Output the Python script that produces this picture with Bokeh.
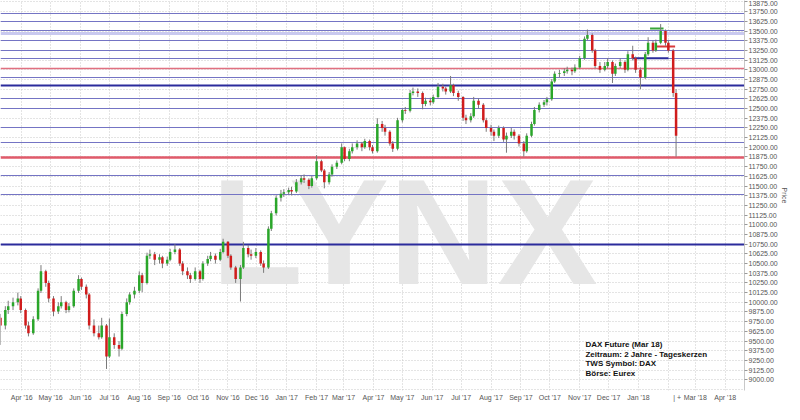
import numpy as np
import pandas as pd
from bokeh.plotting import figure
from bokeh.models import FixedTicker, NumeralTickFormatter, Label, Range1d, ColumnDataSource
from bokeh.core.properties import value
from bokeh.embed import file_html
from bokeh.resources import INLINE

# ---- data (DAX Future, candles of 3 trading days each) ----
opens = [9800, 9700, 9900, 9950, 10000, 10050, 9900, 9700, 9600, 9780,
         10150, 10400, 10250, 10050, 9880, 9950, 10000, 9900, 9950, 10150,
         10300, 10200, 10100, 9700, 9600, 9550, 9700, 9300, 9550, 9450,
         9400, 9850, 10000, 10100, 10150, 10350, 10250, 10600, 10620, 10550,
         10580, 10500, 10550, 10650, 10680, 10500, 10400, 10350, 10300, 10400,
         10300, 10500, 10560, 10600, 10550, 10650, 10780, 10600, 10450, 10300,
         10450, 10700, 10620, 10600, 10650, 10500, 10450, 10950, 11150, 11350,
         11400, 11420, 11450, 11430, 11550, 11600, 11580, 11500, 11600, 11820,
         11700, 11550, 11650, 11750, 11800, 12000, 11850, 11950, 12000, 12050,
         12000, 12080, 12000, 11950, 12300, 12250, 12200, 12050, 11980, 12350,
         12480, 12470, 12700, 12720, 12700, 12560, 12600, 12580, 12650, 12780,
         12760, 12720, 12800, 12700, 12650, 12380, 12350, 12400, 12600, 12550,
         12350, 12250, 12200, 12150, 12250, 12100, 12150, 12200, 12150, 12050,
         11950, 12150, 12300, 12480, 12550, 12580, 12620, 12850, 12950, 12960,
         12980, 13000, 12980, 13030, 13150, 13400, 13450, 13250, 13050, 13000,
         13050, 13100, 12950, 13050, 13100, 13000, 13200, 13150, 13000, 12900,
         13200, 13350, 13250, 13350, 13500, 13350, 13250, 12700]
highs = [9850, 9950, 10020, 10060, 10125, 10080, 9920, 9750, 9820, 10180,
         10480, 10420, 10280, 10080, 10000, 10080, 10020, 9990, 10180, 10350,
         10320, 10230, 10120, 9780, 9700, 9800, 9720, 9790, 9600, 9500,
         9880, 10050, 10130, 10200, 10400, 10380, 10640, 10680, 10650, 10620,
         10600, 10590, 10690, 10750, 10700, 10530, 10450, 10380, 10450, 10420,
         10530, 10600, 10650, 10630, 10690, 10820, 10790, 10620, 10470, 10480,
         10780, 10740, 10680, 10700, 10670, 10540, 10980, 11180, 11380, 11450,
         11460, 11480, 11490, 11590, 11640, 11650, 11600, 11630, 11900, 11840,
         11720, 11680, 11780, 11830, 12050, 12010, 11980, 12050, 12090, 12070,
         12110, 12100, 12030, 12375, 12340, 12290, 12220, 12080, 12380, 12500,
         12520, 12740, 12770, 12760, 12720, 12640, 12640, 12680, 12830, 12820,
         12780, 12920, 12820, 12730, 12660, 12420, 12440, 12650, 12630, 12570,
         12380, 12290, 12230, 12280, 12270, 12190, 12250, 12230, 12170, 12080,
         12180, 12330, 12520, 12580, 12610, 12650, 12880, 12980, 13000, 13020,
         13040, 13030, 13070, 13180, 13430, 13520, 13470, 13270, 13100, 13100,
         13150, 13120, 13080, 13150, 13120, 13240, 13310, 13170, 13030, 13230,
         13420, 13380, 13390, 13590, 13520, 13380, 13270, 12750]
lows = [9450, 9650, 9850, 9900, 9960, 9860, 9660, 9560, 9580, 9760,
        10120, 10200, 10000, 9820, 9850, 9920, 9860, 9870, 9930, 10120,
        10160, 10050, 9650, 9560, 9520, 9530, 9140, 9280, 9400, 9300,
        9380, 9820, 9970, 10050, 10120, 10130, 10230, 10560, 10480, 10500,
        10440, 10470, 10530, 10620, 10470, 10350, 10300, 10250, 10280, 10250,
        10280, 10470, 10530, 10500, 10530, 10630, 10570, 10420, 10250, 10010,
        10430, 10580, 10550, 10570, 10470, 10380, 10430, 10920, 11120, 11300,
        11360, 11390, 11380, 11410, 11520, 11540, 11460, 11480, 11580, 11680,
        11470, 11520, 11620, 11720, 11780, 11820, 11820, 11920, 11970, 11950,
        11980, 11960, 11920, 11930, 12200, 12150, 12020, 11940, 11960, 12320,
        12430, 12450, 12670, 12650, 12490, 12530, 12540, 12560, 12630, 12720,
        12680, 12700, 12660, 12600, 12340, 12300, 12320, 12380, 12500, 12320,
        12200, 12150, 12080, 12120, 12070, 11930, 12120, 12100, 12010, 11880,
        11930, 12130, 12280, 12450, 12520, 12540, 12600, 12830, 12900, 12920,
        12950, 12930, 12960, 13010, 13130, 13380, 13220, 13020, 12960, 12980,
        13020, 12830, 12920, 13020, 12960, 12980, 13120, 12960, 12750, 12880,
        13180, 13220, 13230, 13330, 13310, 13220, 12650, 11880]
closes = [9700, 9900, 9950, 10000, 10050, 9900, 9700, 9600, 9780, 10150,
          10400, 10250, 10050, 9880, 9950, 10000, 9900, 9950, 10150, 10300,
          10200, 10100, 9700, 9600, 9550, 9700, 9300, 9550, 9450, 9400,
          9850, 10000, 10100, 10150, 10350, 10250, 10600, 10620, 10550, 10580,
          10500, 10550, 10650, 10680, 10500, 10400, 10350, 10300, 10400, 10300,
          10500, 10560, 10600, 10550, 10650, 10780, 10600, 10450, 10300, 10450,
          10700, 10620, 10600, 10650, 10500, 10450, 10950, 11150, 11350, 11400,
          11420, 11450, 11430, 11550, 11600, 11580, 11500, 11600, 11820, 11700,
          11550, 11650, 11750, 11800, 12000, 11850, 11950, 12000, 12050, 12000,
          12080, 12000, 11950, 12300, 12250, 12200, 12050, 11980, 12350, 12480,
          12470, 12700, 12720, 12700, 12560, 12600, 12580, 12650, 12780, 12760,
          12720, 12800, 12700, 12650, 12380, 12350, 12400, 12600, 12550, 12350,
          12250, 12200, 12150, 12250, 12100, 12150, 12200, 12150, 12050, 11950,
          12150, 12300, 12480, 12550, 12580, 12620, 12850, 12950, 12960, 12980,
          13000, 12980, 13030, 13150, 13400, 13450, 13250, 13050, 13000, 13050,
          13100, 12950, 13050, 13100, 13000, 13200, 13150, 13000, 12900, 13200,
          13350, 13250, 13350, 13500, 13350, 13250, 12700, 12150]
dates = pd.bdate_range("2016-03-10", periods=len(closes), freq="3B")

NB = "\u00a0"
month_ticks = pd.date_range("2016-04-01", "2018-04-01", freq="MS")
month_labels = ["Apr '16", "May '16", "Jun '16", "Jul '16", "Aug '16", "Sep '16",
                "Oct '16", "Nov '16", "Dec '16", "Jan '17", "Feb '17", "Mar '17",
                "Apr '17", "May '17", "Jun '17", "Jul '17", "Aug '17", "Sep '17",
                "Oct '17", "Nov '17", "Dec '17", "Jan '18", NB * 9 + "|" + NB + "+",
                "Mar '18", "Apr '18"]
price_ticks = list(range(9000, 13876, 125))

# drawn horizontal levels
blue_levels = [13732, 13620, 13508, 13372, 13247, 13148, 12899, 12625, 12501,
               12252, 12065, 11642, 11394]
lavender_levels = [13471]
red_levels = [13017]
red_bold_levels = [11865]
dark_levels = [12799, 10747]
seg_start = ["2018-01-13", "2018-01-20", "2017-12-26"]
seg_end = ["2018-01-27", "2018-02-08", "2018-02-01"]
seg_price = [13533, 13300, 13148]
seg_color = ["#3aa63a", "#d83a3a", "#2b2b9c"]

info_lines = ["DAX Future (Mar 18)", "Zeitraum: 2 Jahre - Tageskerzen",
              "TWS Symbol: DAX", "Börse: Eurex"]

# ---- figure ----
def ms(s):
    return pd.Timestamp(s).value / 1e6

p = figure(frame_width=744, frame_height=390, x_axis_type="datetime", y_axis_location="right",
           x_range=Range1d(ms("2016-03-10"), ms("2018-04-21")),
           y_range=Range1d(8862, 13894),
           output_backend="svg", toolbar_location=None,
           min_border_left=0, min_border_top=0, min_border_right=0, min_border_bottom=0)
p.outline_line_color = None
p.background_fill_color = "white"
p.border_fill_color = "white"

tick_ms = [t.value / 1e6 for t in month_ticks]
p.xaxis.ticker = FixedTicker(ticks=tick_ms)
p.xaxis.major_label_overrides = {t: l for t, l in zip(tick_ms, month_labels)}
p.xaxis.axis_line_color = None
p.xaxis.major_tick_line_color = None
p.xaxis.minor_tick_line_color = None
p.xaxis.major_tick_out = 0
p.xaxis.minor_tick_out = 0
p.xaxis.axis_label = None
p.xaxis.axis_label_standoff = 0
p.xaxis.major_label_text_font = "Liberation Sans"
p.xaxis.major_label_text_font_size = "7px"
p.xaxis.major_label_text_color = "#555555"
p.xaxis.major_label_standoff = 3

p.yaxis.ticker = FixedTicker(ticks=price_ticks)
p.yaxis.formatter = NumeralTickFormatter(format="0.00")
p.yaxis.major_label_text_font = "Liberation Sans"
p.yaxis.major_label_text_font_size = "7px"
p.yaxis.major_label_text_color = "#555555"
p.yaxis.major_label_standoff = 1
p.yaxis.major_tick_out = 3
p.yaxis.major_tick_in = 0
p.yaxis.minor_tick_out = 0
p.yaxis.minor_tick_line_color = None
p.yaxis.axis_line_color = "#c8c8c8"
p.yaxis.major_tick_line_color = "#999999"
p.yaxis.axis_label = "Price"
p.yaxis.axis_label_text_font = "Liberation Sans"
p.yaxis.axis_label_text_font_size = "7px"
p.yaxis.axis_label_text_font_style = "normal"
p.yaxis.axis_label_text_color = "#555555"
p.yaxis.axis_label_standoff = 0

p.xgrid.ticker = FixedTicker(ticks=tick_ms)
p.ygrid.ticker = FixedTicker(ticks=[8875] + price_ticks)
for g in (p.xgrid, p.ygrid):
    g.grid_line_color = "#c8c8c8"
    g.grid_line_dash = "1 2"
    g.grid_line_width = 1

# watermark
p.text(x=[ms("2017-05-03")], y=[10910], text=["LYNX"],
       text_font=value("Liberation Sans"), text_font_style="bold",
       text_font_size="150px", text_color="#e6e6e6",
       text_align="center", text_baseline="middle")

# levels
p.hspan(y=blue_levels, line_color="#7474c4", line_width=1)
p.hspan(y=lavender_levels, line_color="#c9c9ef", line_width=3)
p.hspan(y=red_levels, line_color="#e07080", line_width=1.5)
p.hspan(y=red_bold_levels, line_color="#e05a6a", line_width=2.5)
p.hspan(y=dark_levels, line_color="#2b2b9c", line_width=2)
p.segment(x0=[pd.Timestamp(s) for s in seg_start], x1=[pd.Timestamp(s) for s in seg_end],
          y0=seg_price, y1=seg_price, line_color=seg_color, line_width=2)

# candles
src = ColumnDataSource(dict(
    date=dates, open=opens, high=highs, low=lows, close=closes,
    top=[max(o, c) for o, c in zip(opens, closes)],
    bottom=[min(o, c) for o, c in zip(opens, closes)],
    color=["#2aa62a" if c >= o else "#d01c1c" for o, c in zip(opens, closes)],
))
p.segment(x0="date", y0="high", x1="date", y1="low", source=src,
          line_color="#7a7a7a", line_width=1)
p.vbar(x="date", width=2.6 * 86400000, top="top", bottom="bottom", source=src,
       fill_color="color", line_color=None)

# info text
info_y = [9455, 9326, 9210, 9081]
for txt, yy in zip(info_lines, info_y):
    p.add_layout(Label(x=ms("2017-11-07"), y=yy, text=txt, text_font="Liberation Sans",
                       text_font_size="8px", text_font_style="bold", text_color="#111111",
                       text_baseline="middle"))

open("out.html", "w").write(file_html(p, INLINE))
